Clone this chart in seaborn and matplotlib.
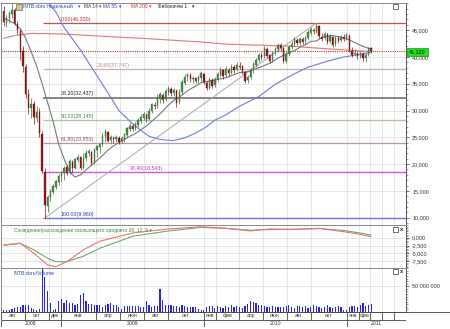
import numpy as np
import pandas as pd
import matplotlib
matplotlib.use("Agg")
import matplotlib.pyplot as plt
import matplotlib.dates as mdates
from matplotlib.patches import Rectangle
from matplotlib.ticker import MultipleLocator
import seaborn as sns

# ---------------- data (prices in thousands) ----------------
first_week = "2008-08-08"
n_weeks = 135

opens = [48.6, 46.4, 47.2, 48.1, 48.7, 46.2, 44.8, 41.1, 38.2, 33.1,
         30.4, 31.2, 28.7, 29.7, 25.6, 18.6, 12.2, 13.8, 14.8, 15.8,
         16.7, 17.7, 18.3, 19.4, 18.5, 20.4, 19.3, 20.8, 21.3, 19.3,
         21.1, 22.1, 22.3, 20.4, 22.6, 23.2, 23.8, 25.2, 26.0, 24.5,
         24.9, 24.7, 24.9, 24.3, 24.7, 25.5, 26.6, 27.1, 26.7, 27.3,
         28.1, 28.7, 29.2, 28.5, 29.9, 31.1, 30.9, 32.2, 32.9, 32.1,
         33.5, 34.1, 33.3, 33.8, 31.6, 33.4, 35.2, 36.2, 36.7, 35.8,
         36.1, 35.7, 36.1, 36.9, 35.2, 34.3, 35.7, 34.7, 35.8, 36.7,
         37.5, 36.6, 37.6, 37.1, 38.1, 37.7, 38.4, 38.3, 37.2, 35.7,
         36.3, 37.5, 38.5, 39.4, 40.3, 40.1, 41.5, 40.3, 39.4, 40.7,
         41.4, 42.2, 41.7, 39.3, 40.5, 41.8, 42.4, 43.2, 42.7, 43.3,
         42.9, 43.5, 44.5, 45.1, 44.9, 45.7, 43.8, 43.5, 44.2, 42.9,
         43.8, 42.4, 43.5, 43.1, 43.7, 43.5, 44.0, 41.2, 40.5, 40.7,
         40.2, 40.6, 39.9, 40.4, 41.6]
highs = [49.6, 47.9, 48.6, 50.0, 49.2, 46.8, 45.2, 42.0, 38.7, 34.0,
         32.3, 31.8, 30.9, 30.4, 26.2, 19.2, 14.2, 15.3, 16.2, 17.1,
         18.1, 18.7, 19.6, 19.9, 20.9, 20.7, 21.2, 21.8, 21.6, 22.1,
         22.6, 22.8, 22.5, 23.0, 23.6, 24.0, 25.8, 26.5, 26.2, 25.4,
         25.3, 25.4, 25.2, 25.2, 25.9, 27.0, 27.7, 27.5, 27.8, 28.6,
         29.4, 29.7, 29.5, 30.4, 31.5, 31.6, 33.0, 33.4, 33.2, 34.1,
         34.5, 34.4, 34.3, 33.9, 34.0, 35.8, 36.9, 37.1, 37.0, 36.5,
         36.3, 36.6, 37.3, 37.1, 35.6, 36.2, 36.1, 36.3, 37.2, 38.1,
         37.8, 38.3, 38.0, 38.7, 38.5, 39.0, 39.0, 38.5, 37.4, 36.7,
         38.0, 39.0, 39.9, 40.8, 40.9, 42.0, 41.8, 40.6, 41.2, 41.9,
         42.7, 42.6, 41.9, 41.0, 42.3, 42.9, 43.8, 43.6, 43.8, 43.7,
         44.0, 45.0, 45.6, 45.5, 46.33, 45.9, 44.5, 44.7, 44.4, 44.2,
         44.0, 44.0, 43.9, 44.1, 44.3, 44.5, 44.2, 41.8, 41.4, 41.0,
         41.2, 40.9, 40.8, 41.9, 41.9]
lows = [45.8, 45.6, 46.4, 47.2, 45.9, 44.3, 39.4, 37.2, 32.4, 29.4,
        28.7, 27.5, 27.9, 25.0, 18.3, 9.96, 11.1, 13.1, 14.4, 15.4,
        16.1, 16.7, 17.1, 18.0, 18.2, 18.6, 19.0, 20.4, 18.9, 19.0,
        20.6, 21.5, 19.8, 20.1, 21.3, 22.1, 23.4, 24.1, 24.1, 23.9,
        23.9, 24.1, 23.8, 23.9, 24.2, 25.1, 26.2, 26.2, 26.4, 27.0,
        27.7, 28.2, 27.9, 28.2, 29.5, 30.2, 30.5, 31.5, 31.4, 31.8,
        32.9, 32.7, 32.8, 30.7, 31.2, 33.0, 34.8, 35.6, 35.3, 35.2,
        35.1, 35.2, 35.6, 34.9, 33.8, 34.0, 34.2, 34.4, 35.5, 36.3,
        35.9, 36.3, 36.5, 36.8, 37.0, 37.3, 37.7, 36.9, 35.1, 35.2,
        35.9, 37.1, 38.1, 39.0, 39.5, 39.8, 39.9, 38.8, 39.0, 40.3,
        41.0, 41.2, 38.8, 38.9, 40.2, 41.4, 42.0, 42.2, 42.3, 42.4,
        42.5, 43.2, 44.1, 44.3, 44.5, 43.6, 42.9, 43.1, 42.4, 42.6,
        41.9, 42.1, 42.7, 42.8, 43.0, 43.2, 40.9, 40.0, 40.1, 39.7,
        39.9, 39.3, 39.1, 40.2, 40.8]
closes = [46.5, 47.3, 48.2, 48.8, 46.3, 45.0, 41.0, 38.3, 33.0, 30.5,
          31.3, 28.8, 29.8, 25.8, 18.8, 12.4, 13.9, 14.9, 15.9, 16.8,
          17.8, 18.4, 19.3, 18.4, 20.5, 19.2, 20.9, 21.4, 19.2, 21.2,
          22.0, 22.4, 20.3, 22.7, 23.3, 23.7, 25.3, 26.1, 24.4, 25.0,
          24.6, 25.0, 24.2, 24.8, 25.6, 26.7, 27.2, 26.6, 27.4, 28.2,
          28.8, 29.3, 28.4, 30.0, 31.2, 30.8, 32.3, 33.0, 32.0, 33.6,
          34.2, 33.2, 33.9, 31.5, 33.5, 35.3, 36.3, 36.8, 35.9, 36.0,
          35.6, 36.2, 37.0, 35.3, 34.2, 35.8, 34.6, 35.9, 36.8, 37.6,
          36.5, 37.7, 37.0, 38.2, 37.6, 38.5, 38.2, 37.3, 35.6, 36.2,
          37.6, 38.6, 39.5, 40.4, 40.0, 41.6, 40.2, 39.3, 40.8, 41.5,
          42.3, 41.6, 39.2, 40.6, 41.9, 42.5, 43.3, 42.6, 43.4, 42.8,
          43.6, 44.6, 45.2, 44.8, 45.8, 43.9, 43.4, 44.3, 42.8, 43.9,
          42.3, 43.6, 43.0, 43.8, 43.4, 44.1, 41.3, 40.4, 40.8, 40.1,
          40.7, 39.8, 40.3, 41.5, 41.12]
volumes_m = [3, 3, 4, 5, 8, 10, 10, 13, 13, 13,
             8, 6, 3, 5, 84, 68, 40, 18, 3, 5,
             22, 26, 18, 23, 18, 18, 13, 16, 34, 36,
             21, 16, 16, 13, 13, 13, 10, 14, 16, 18,
             13, 13, 10, 5, 12, 12, 12, 12, 12, 12,
             10, 10, 21, 13, 10, 12, 12, 44, 23, 13,
             13, 13, 12, 12, 10, 14, 12, 10, 10, 10,
             9, 5, 3, 4, 10, 12, 12, 8, 12, 10,
             8, 12, 10, 14, 9, 12, 10, 8, 12, 16,
             22, 20, 18, 14, 14, 12, 10, 10, 12, 10,
             9, 10, 9, 12, 14, 10, 8, 12, 11, 10,
             12, 8, 10, 14, 12, 9, 8, 10, 13, 9,
             8, 10, 12, 9, 4, 3, 10, 12, 12, 10,
             14, 17, 12, 13, 16]

# moving averages (week index -> value, thousands)
ma14_weeks = [0, 2, 4, 6, 8, 10, 12, 14, 16, 18, 20, 22, 24, 26, 28, 30, 32, 34,
              36, 38, 40, 42, 44, 46, 48, 50, 52, 54, 56, 58, 60, 62, 64, 66, 68,
              70, 72, 74, 76, 78, 80, 82, 84, 86, 88, 90, 92, 94, 96, 98, 100,
              102, 104, 106, 108, 110, 112, 114, 116, 118, 120, 122, 124, 126,
              128, 130, 132, 134]
ma14_vals = [47.2, 46.8, 46.2, 45.3, 43.5, 41.0, 38.3, 35.0, 31.5, 28.0, 23.8,
             21.0, 18.6, 17.6, 18.0, 18.9, 19.8, 20.7, 21.6, 22.6, 23.4, 24.0,
             24.6, 25.2, 25.7, 26.4, 27.1, 28.0, 28.9, 29.9, 31.0, 31.9, 32.5,
             33.3, 34.0, 34.6, 35.2, 35.4, 35.6, 35.8, 36.0, 36.3, 36.7, 37.1,
             37.2, 37.4, 37.8, 38.2, 38.6, 39.1, 39.8, 40.3, 40.7, 41.2, 41.8,
             42.3, 42.9, 43.0, 43.6, 43.9, 44.0, 43.8, 43.6, 43.2, 42.7, 42.2,
             41.8, 41.5]
ma55_weeks = [0, 6, 10, 13, 16, 19, 22, 28, 35, 39, 42, 46, 50, 53, 57, 62, 66,
              70, 74, 77, 81, 86, 93, 99, 105, 111, 118, 124, 130, 134]
ma55_vals = [53.5, 53.0, 52.3, 51.4, 50.3, 48.4, 45.5, 41.3, 35.7, 32.5, 30.0,
             28.0, 26.3, 25.2, 24.6, 24.4, 24.9, 25.8, 27.0, 28.2, 29.2, 30.8,
             32.6, 34.9, 36.6, 38.1, 39.2, 40.0, 40.5, 40.9]
ma200_weeks = [0, 4, 10, 21, 35, 53, 72, 81, 94, 105, 116, 125, 134]
ma200_vals = [43.5, 44.0, 44.4, 44.3, 43.9, 43.4, 42.8, 42.4, 42.2, 42.0, 41.6,
              41.3, 41.0]

# MACD (26,12,9)
macd_weeks = [0, 6, 11, 16, 19, 23, 29, 35, 47, 60, 72, 81, 90, 97, 105, 115,
              124, 130, 134]
macd_line = [-2340, -1800, -5000, -8700, -9280, -7700, -3900, -1150, 1500,
             2780, 3500, 3000, 2140, 2800, 2600, 3000, 1900, 1090, 300]
macd_signal = [-2400, -1800, -3900, -6600, -7680, -7700, -5950, -3400, 450,
               2140, 3300, 3000, 2400, 2600, 2700, 2900, 2300, 1500, 860]

# Fibonacci levels
fib_values = [46330, 37747, 32437, 28145, 23853, 18543, 9960]
fib_labels = ["0,00(46,330)", "23,60(37,747)", "38,20(32,437)", "50,00(28,145)",
              "61,80(23,853)", "76,40(18,543)", "100,00(9,960)"]
last_price = 41120
last_price_label = "41,120"
low_week, high_week = 15, 114

price_ticks = [10000, 15000, 20000, 25000, 30000, 35000, 40000, 45000]
macd_ticks = [0, -2500, -5000, -7500]
macd_tick_labels = ["0,000", "-2,500", "-5,000", "-7,500"]
vol_ticks = [50e6]
vol_tick_labels = ["50 000 000"]

month_starts = ["2008-08-01", "2008-10-01", "2008-12-01", "2009-01-01", "2009-04-01",
                "2009-06-01", "2009-08-01", "2009-10-01", "2010-01-01", "2010-02-01",
                "2010-04-01", "2010-06-01", "2010-08-01", "2010-10-01", "2011-01-01",
                "2011-02-01", "2011-03-01", "2011-04-01", "2011-05-01"]
month_labels = ["авг", "окт", "дек", "янв", "апр", "июн", "авг", "окт", "янв", "фев",
                "апр", "июн", "авг", "окт", "янв", "фев", "", "", ""]
year_starts = ["2008-08-01", "2009-01-01", "2010-01-01", "2011-01-01"]
year_labels = ["2008", "2009", "2010", "2011"]

# ---------------- figure ----------------
sns.set_style("white")
plt.rcParams['font.family'] = ['Liberation Sans', 'DejaVu Sans']
plt.rcParams['axes.linewidth'] = 0.6

W, H = 450, 329
fig = plt.figure(figsize=(W / 100, H / 100), dpi=100)
fig.patch.set_facecolor("white")


def add_ax(x0, y0, x1, y1):
    return fig.add_axes([x0 / W, 1 - y1 / H, (x1 - x0) / W, (y1 - y0) / H])


def fx(x):
    return x / W


def fy(y):
    return 1 - y / H


X0, X1 = 1, 406
ax = add_ax(X0, 3, X1, 225)
axm = add_ax(X0, 225, X1, 268)
axv = add_ax(X0, 268, X1, 312)
axd = add_ax(X0, 312, X1, 327)

xl = mdates.date2num(pd.Timestamp("2008-08-01"))
xr = mdates.date2num(pd.Timestamp("2011-06-01"))

dates = pd.date_range(first_week, periods=n_weeks, freq="7D")
xd = mdates.date2num(dates)
K = 1000.0
o = np.array(opens) * K
h = np.array(highs) * K
l = np.array(lows) * K
c = np.array(closes) * K

mstart = mdates.date2num(pd.to_datetime(month_starts))
ystart = mdates.date2num(pd.to_datetime(year_starts))

GRID = "#e2e2e2"
for a in (ax, axm, axv):
    a.set_facecolor("white")
    for xv in mstart:
        a.axvline(xv, color=GRID, lw=0.6, zorder=0)

# ---- main panel ----
for yv in price_ticks:
    ax.axhline(yv, color=GRID, lw=0.6, zorder=0)

# current price dotted line
ax.hlines(last_price, xl, xr, colors="#d03030", lw=0.8, linestyles=(0, (1, 1)), zorder=2)

# Fibonacci
fib_line_colors = ["#c05050", "#c8b0b0", "#707070", "#a8c8a0", "#b898a8", "#e050e0", "#7070e0"]
fib_text_colors = ["#c03030", "#a08a8a", "#202020", "#3f8a3f", "#805070", "#c030c0", "#3030c0"]
fib_text_px = [61, 97, 61, 61, 61, 130, 61]
fib_lw = [0.9, 0.9, 1.2, 0.9, 0.9, 1.0, 1.0]
fib_x0 = xd[low_week] - 4
for val, lab, lc, tc, tpx, lw in zip(fib_values, fib_labels, fib_line_colors,
                                      fib_text_colors, fib_text_px, fib_lw):
    ax.hlines(val, fib_x0, xr, colors=lc, lw=lw, zorder=2)
    tx = xl + (tpx - X0) / (X1 - X0) * (xr - xl)
    ax.annotate(lab, (tx, val), xytext=(0, 0.8), textcoords="offset points",
                color=tc, fontsize=3.8, ha="left", va="bottom", zorder=5)

# diagonal of the Fibonacci tool
ax.plot([xd[low_week], xd[high_week]], [fib_values[-1], fib_values[0]],
        color="#a8a8a8", lw=0.7, zorder=2)

# moving averages
sns.lineplot(x=xd[ma200_weeks], y=np.array(ma200_vals) * K, ax=ax, color="#e07878", lw=0.8, zorder=3)
sns.lineplot(x=xd[ma55_weeks], y=np.array(ma55_vals) * K, ax=ax, color="#7878e0", lw=0.8, zorder=3)
sns.lineplot(x=xd[ma14_weeks], y=np.array(ma14_vals) * K, ax=ax, color="#787878", lw=0.8, zorder=3)

# candles
up = c >= o
wick_col = np.where(up, "#3a6a3a", "#7a1515")
ax.vlines(xd, l, h, colors=wick_col, lw=0.5, zorder=4)
body_h = np.maximum(np.abs(c - o), 80)
ax.bar(xd, body_h, bottom=np.minimum(o, c), width=3.4,
       color=np.where(up, "#4a8a4a", "#8b1a1a"),
       edgecolor=np.where(up, "#356535", "#6a1010"), lw=0.25, zorder=4)

ax.set_xlim(xl, xr)
ax.set_ylim(8637, 50078)
ax.set_xlabel("")
ax.set_ylabel("")

# ---- MACD ----
for yv in macd_ticks:
    axm.axhline(yv, color=GRID, lw=0.6, zorder=0)
sns.lineplot(x=xd[macd_weeks], y=macd_signal, ax=axm, color="#6aaa6a", lw=0.8)
sns.lineplot(x=xd[macd_weeks], y=macd_line, ax=axm, color="#f07070", lw=0.8)
axm.set_xlim(xl, xr)
axm.set_ylim(-9700, 4060)
axm.set_xlabel("")
axm.set_ylabel("")

# ---- Volume ----
axv.axhline(50e6, color=GRID, lw=0.6, zorder=0)
axv.bar(xd, np.array(volumes_m) * 1e6, width=3.0, color="#2525e0", lw=0, zorder=3)
axv.set_xlim(xl, xr)
axv.set_ylim(0, 85.5e6)

# ticks on the right
for a, ticks, labels in ((ax, price_ticks, [f"{t:,}" for t in price_ticks]),
                         (axm, macd_ticks, macd_tick_labels),
                         (axv, vol_ticks, vol_tick_labels)):
    a.set_xticks([])
    a.set_yticks(ticks)
    a.set_yticklabels(labels)
    a.yaxis.tick_right()
    a.tick_params(axis="y", which="major", length=2.5, width=0.5, pad=2,
                  labelsize=3.9, colors="#333333")
    for s in ("top", "left", "bottom"):
        a.spines[s].set_color("#888888")
        a.spines[s].set_linewidth(0.7)
    a.spines["right"].set_color("#555555")
    a.spines["right"].set_linewidth(0.7)
ax.yaxis.set_minor_locator(MultipleLocator(1000))
axm.yaxis.set_minor_locator(MultipleLocator(500))
axv.yaxis.set_minor_locator(MultipleLocator(5e6))
for a in (ax, axm, axv):
    a.tick_params(axis="y", which="minor", length=1.2, width=0.4, colors="#555555")

# ---- date axis ----
axd.set_xlim(xl, xr)
axd.set_ylim(0, 2)
axd.axis("off")
LC = "#404040"
axd.hlines([0.05, 1, 1.95], xl, xr, colors=LC, lw=0.6)
axd.vlines(mstart, 1, 2, colors=LC, lw=0.6)
axd.vlines(ystart, 0, 1, colors=LC, lw=0.6)
axd.vlines([xr], 0, 2, colors=LC, lw=0.6)
bounds = list(mstart) + [xr]
for i, lab in enumerate(month_labels):
    cx = (max(bounds[i], xl) + bounds[i + 1]) / 2
    axd.text(cx, 1.5, lab, fontsize=3.7, ha="center", va="center", color="#333333")
ybounds = list(ystart) + [xr]
for i, lab in enumerate(year_labels):
    cx = (max(ybounds[i], xl) + ybounds[i + 1]) / 2
    axd.text(cx, 0.52, lab, fontsize=3.7, ha="center", va="center", color="#333333")

# ---- header texts ----
fig.patches.append(Rectangle((fx(16), fy(9.5)), 6 / W, 6 / H, transform=fig.transFigure,
                             facecolor="#f2c46a", edgecolor="#4a6ac8", lw=0.5))
hdr = [(23, "INTB:xbru Недельный", "#2848c0"), (77.5, "▾", "#2848c0"),
       (84, "MA 14", "#404040"), (99, "▾", "#404040"),
       (103, "MA 55", "#3c3cc8"), (118.5, "▾", "#3c3cc8"),
       (131, "MA 200", "#c83030"), (149, "▾", "#c83030"),
       (158, "Фибоначчи 1", "#202020"), (192, "▾", "#202020")]
for px_, t, col in hdr:
    fig.text(fx(px_), fy(6.5), t, fontsize=3.5, color=col, ha="left", va="center")

fig.text(fx(14), fy(230.5), "Схождение/расхождение скользящего среднего 26, 12, 9 ▾",
         fontsize=3.6, color="#3a8a3a", ha="left", va="center")
fig.text(fx(14), fy(273.5), "INTB:xbru/Volume", fontsize=3.6, color="#2848c0",
         ha="left", va="center")

# small window icons
for yy in (4, 227, 269):
    fig.patches.append(Rectangle((fx(393), fy(yy + 5)), 5 / W, 5 / H, transform=fig.transFigure,
                                 facecolor="white", edgecolor="#333333", lw=0.5))
for yy in (227, 269):
    fig.text(fx(400), fy(yy + 2.5), "x", fontsize=4.2, fontweight="bold", color="#222222",
             ha="left", va="center")

# last price tag
fig.patches.append(Rectangle((fx(407), fy(55.5)), 21 / W, 8 / H, transform=fig.transFigure,
                             facecolor="#22dd22", edgecolor="#119911", lw=0.5))
fig.text(fx(417.5), fy(51.5), last_price_label, fontsize=3.9, color="#111111",
         ha="center", va="center")

# outer frame / right column lines
fig.lines.append(plt.Line2D([fx(406), fx(449.5)], [fy(312), fy(312)], transform=fig.transFigure,
                            color=LC, lw=0.6))
fig.lines.append(plt.Line2D([fx(449.5), fx(449.5)], [fy(0), fy(329)], transform=fig.transFigure,
                            color="#888888", lw=0.6))
fig.lines.append(plt.Line2D([fx(0), fx(450)], [fy(328.5), fy(328.5)], transform=fig.transFigure,
                            color="#888888", lw=0.6))

fig.savefig("out.png", dpi=100)
